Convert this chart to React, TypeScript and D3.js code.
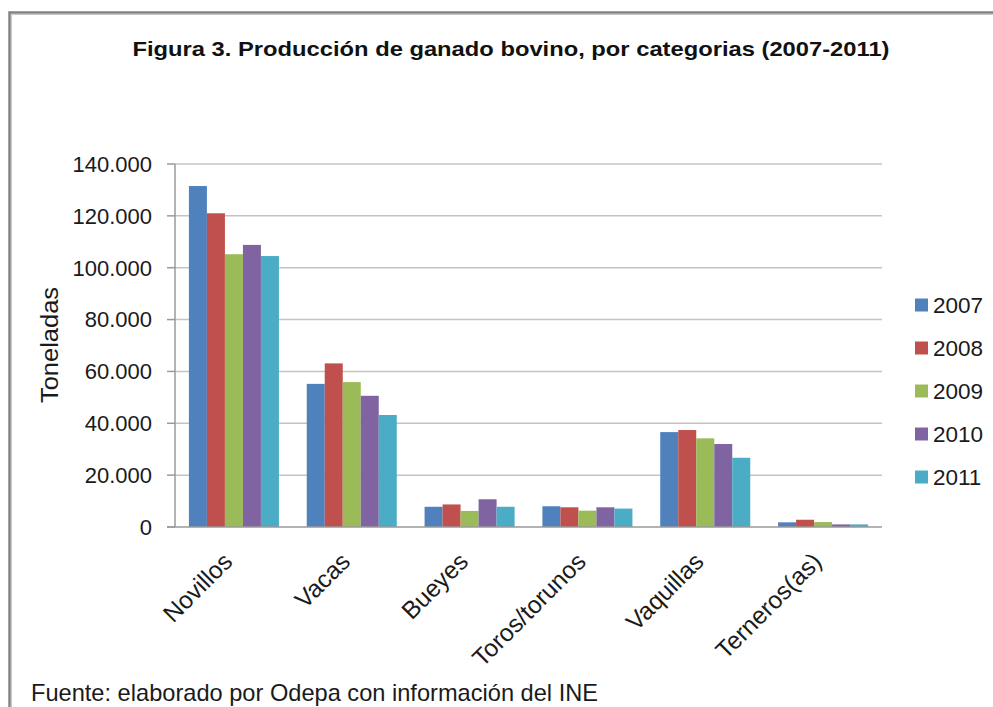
import React from "react";
import * as d3 from "d3";

const categories = ["Novillos", "Vacas", "Bueyes", "Toros/torunos", "Vaquillas", "Terneros(as)"];
const years = ["2007", "2008", "2009", "2010", "2011"];
const colors = ["#4F81BD", "#C0504D", "#9BBB59", "#8064A2", "#4BACC6"];
const v2007 = [131500, 55200, 7800, 8000, 36600, 1800];
const v2008 = [121000, 63100, 8700, 7600, 37400, 2800];
const v2009 = [105200, 55900, 6200, 6300, 34200, 1900];
const v2010 = [108800, 50600, 10700, 7600, 32000, 1000];
const v2011 = [104500, 43200, 7800, 7100, 26700, 1000];
const series = [v2007, v2008, v2009, v2010, v2011];
const yTicks = [0, 20000, 40000, 60000, 80000, 100000, 120000, 140000];

const W = 993, H = 707;
const left = 175, right = 882, top = 164, bottom = 527;
const font = "'Liberation Sans', Arial, sans-serif";

export default function App() {
  const x = d3.scaleBand<string>().domain(categories).range([left, right]).paddingInner(0.236).paddingOuter(0.118);
  const x1 = d3.scaleBand<string>().domain(years).range([0, x.bandwidth()]);
  const y = d3.scaleLinear().domain([0, 140000]).range([bottom, top]);
  const fmt = (v: number) => (v === 0 ? "0" : d3.format(",")(v).replace(/,/g, "."));
  const step = (right - left) / categories.length;

  return (
    <svg width={W} height={H} style={{ position: "absolute", left: 0, top: 0, background: "#fff" }} fontFamily={font}>
      <rect x={0} y={0} width={W} height={H} fill="#fff" />
      {/* frame */}
      <path d={`M10,${H + 5} L10,13 L${W + 5},13`} fill="none" stroke="#c8c8c8" strokeWidth={4} />
      <path d={`M9.5,${H + 5} L9.5,12.5 L${W + 5},12.5`} fill="none" stroke="#808080" strokeWidth={2} />
      <text x={511} y={56} textAnchor="middle" fontSize={21} fontWeight="bold" fill="#111" textLength={757} lengthAdjust="spacingAndGlyphs">
        Figura 3. Producción de ganado bovino, por categorias (2007-2011)
      </text>
      {/* gridlines */}
      {yTicks.map((t) => (
        <g key={t}>
          {t > 0 && <line x1={left} x2={right} y1={y(t)} y2={y(t)} stroke="#c4c4c4" strokeWidth={1.5} />}
          <line x1={167} x2={left} y1={y(t)} y2={y(t)} stroke="#9a9a9a" strokeWidth={1.5} />
          <text x={152} y={y(t)} dy="0.36em" textAnchor="end" fontSize={22} fill="#1a1a1a">
            {fmt(t)}
          </text>
        </g>
      ))}
      {/* bars */}
      {categories.map((c, i) => (
        <g key={c} transform={`translate(${x(c)},0)`}>
          {series.map((s, j) => (
            <rect key={j} x={x1(years[j])} y={y(s[i])} width={x1.bandwidth()} height={bottom - y(s[i])} fill={colors[j]} />
          ))}
        </g>
      ))}
      {/* axes */}
      <line x1={left} x2={left} y1={top} y2={bottom} stroke="#9a9a9a" strokeWidth={1.5} />
      <line x1={167} x2={right} y1={bottom} y2={bottom} stroke="#9a9a9a" strokeWidth={1.5} />
      {categories.map((c, i) => {
        const cx = left + step * (i + 0.5);
        return (
          <text key={c} transform={`translate(${cx},${bottom + 36}) rotate(-45)`} textAnchor="end" fontSize={24.5} fill="#1a1a1a">
            {c}
          </text>
        );
      })}
      <text transform={`translate(58,345) rotate(-90)`} textAnchor="middle" fontSize={23} fill="#1a1a1a" textLength={116} lengthAdjust="spacingAndGlyphs">
        Toneladas
      </text>
      {/* legend */}
      {years.map((yr, j) => {
        const ly = 305 + j * 43;
        return (
          <g key={yr}>
            <rect x={915} y={ly - 6.5} width={13} height={13} fill={colors[j]} />
            <text x={933} y={ly} dy="0.36em" fontSize={22.5} fill="#1a1a1a">
              {yr}
            </text>
          </g>
        );
      })}
      <text x={31} y={701} fontSize={24} fill="#1a1a1a" textLength={567} lengthAdjust="spacingAndGlyphs">
        Fuente: elaborado por Odepa con información del INE
      </text>
    </svg>
  );
}
